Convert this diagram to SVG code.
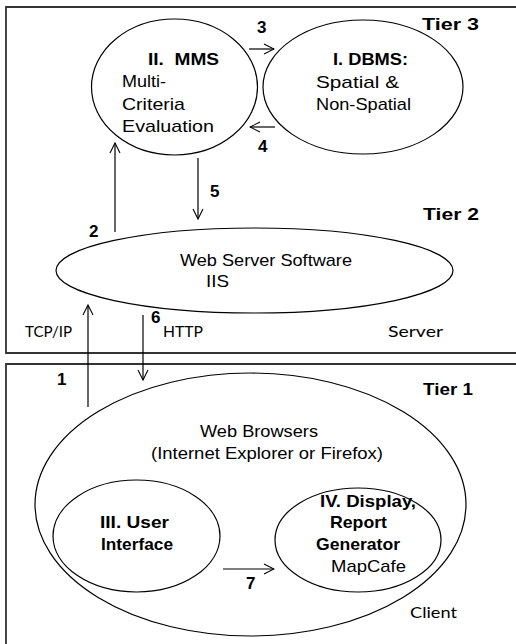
<svg xmlns="http://www.w3.org/2000/svg" width="516" height="644" viewBox="0 0 516 644">
<defs>
<marker id="arr" markerWidth="12" markerHeight="12" viewBox="0 0 12 12" refX="11" refY="6" orient="auto" markerUnits="userSpaceOnUse">
<path d="M1,1 L11,6 L1,11" fill="none" stroke="#000" stroke-width="1.1"/>
</marker>
<style>
.frame{fill:none;stroke:#333;stroke-width:1.8}
.node{fill:none;stroke:#000;stroke-width:1.2}
.conn line{stroke:#000;stroke-width:1.2;marker-end:url(#arr)}
text{lengthAdjust:spacingAndGlyphs}
.t{font-family:"Liberation Sans",Arial,sans-serif;font-size:17px;fill:#000}
.b{font-family:"Liberation Sans",Arial,sans-serif;font-size:17px;font-weight:bold;fill:#000}
.c{font-family:Lato,"Open Sans",sans-serif;font-size:16px;fill:#000}
</style>
</defs>
<rect width="516" height="644" fill="#fff"/>
<g id="server-frame">
<path class="frame" d="M520,7 L6,7 L6,353 L520,353"/>
<text class="b" x="422" y="30" textLength="57" lengthAdjust="spacingAndGlyphs">Tier 3</text>
<text class="b" x="423" y="220" textLength="56" lengthAdjust="spacingAndGlyphs">Tier 2</text>
<text class="c" x="25" y="337" textLength="47" lengthAdjust="spacingAndGlyphs">TCP/IP</text>
<text class="c" x="388" y="337" textLength="55" lengthAdjust="spacingAndGlyphs">Server</text>
</g>
<g id="client-frame">
<path class="frame" d="M520,364 L6,364 L6,650"/>
<text class="b" x="423" y="395" textLength="50" lengthAdjust="spacingAndGlyphs">Tier 1</text>
<text class="c" x="410" y="618" textLength="47" lengthAdjust="spacingAndGlyphs">Client</text>
</g>
<g id="mms">
<ellipse class="node" cx="174.5" cy="87" rx="83" ry="68"/>
<text class="b" x="148" y="65" xml:space="preserve" textLength="71" lengthAdjust="spacingAndGlyphs">II.  MMS</text>
<text class="t" x="122" y="87" textLength="44" lengthAdjust="spacingAndGlyphs">Multi-</text>
<text class="t" x="122" y="110" textLength="63" lengthAdjust="spacingAndGlyphs">Criteria</text>
<text class="t" x="122" y="132" textLength="92" lengthAdjust="spacingAndGlyphs">Evaluation</text>
</g>
<g id="dbms">
<ellipse class="node" cx="363" cy="87" rx="100" ry="67"/>
<text class="b" x="333" y="65" textLength="75" lengthAdjust="spacingAndGlyphs">I. DBMS:</text>
<text class="t" x="316" y="88" textLength="83" lengthAdjust="spacingAndGlyphs">Spatial &amp;</text>
<text class="t" x="316" y="110" textLength="95" lengthAdjust="spacingAndGlyphs">Non-Spatial</text>
</g>
<g id="webserver">
<ellipse class="node" cx="254.5" cy="270.5" rx="198.5" ry="42.5"/>
<text class="t" x="180" y="266" textLength="172" lengthAdjust="spacingAndGlyphs">Web Server Software</text>
<text class="t" x="206" y="287" textLength="23" lengthAdjust="spacingAndGlyphs">IIS</text>
</g>
<g id="browsers">
<ellipse class="node" cx="250.5" cy="504.5" rx="215.5" ry="131.5"/>
<text class="t" x="200" y="437" textLength="118" lengthAdjust="spacingAndGlyphs">Web Browsers</text>
<text class="t" x="151" y="459" textLength="232" lengthAdjust="spacingAndGlyphs">(Internet Explorer or Firefox)</text>
</g>
<g id="ui">
<ellipse class="node" cx="136.5" cy="536" rx="83.5" ry="56"/>
<text class="b" x="100" y="528" textLength="69" lengthAdjust="spacingAndGlyphs">III. User</text>
<text class="b" x="101" y="550" textLength="72" lengthAdjust="spacingAndGlyphs">Interface</text>
</g>
<g id="display">
<ellipse class="node" cx="358" cy="540" rx="83" ry="52"/>
<text class="b" x="320" y="507" textLength="96" lengthAdjust="spacingAndGlyphs">IV. Display,</text>
<text class="b" x="330" y="528" textLength="57" lengthAdjust="spacingAndGlyphs">Report</text>
<text class="b" x="316" y="550" textLength="84" lengthAdjust="spacingAndGlyphs">Generator</text>
<text class="t" x="331" y="572" textLength="75" lengthAdjust="spacingAndGlyphs">MapCafe</text>
</g>
<g id="connectors" class="conn">
<line x1="249" y1="49" x2="274" y2="49"/>
<line x1="275" y1="127" x2="250" y2="127"/>
<line x1="115" y1="232" x2="115" y2="143"/>
<line x1="198" y1="158" x2="198" y2="219"/>
<line x1="88" y1="407" x2="88" y2="305"/>
<line x1="143" y1="315" x2="143" y2="380"/>
<line x1="223" y1="569" x2="274" y2="569"/>
</g>
<g id="labels">
<text class="b" x="257" y="33">3</text>
<text class="b" x="258" y="152">4</text>
<text class="b" x="210" y="197">5</text>
<text class="b" x="89" y="237">2</text>
<text class="b" x="57" y="385">1</text>
<text class="b" x="151" y="323">6</text>
<text class="c" x="163" y="337" textLength="40" lengthAdjust="spacingAndGlyphs">HTTP</text>
<text class="b" x="246" y="589">7</text>
</g>
</svg>
